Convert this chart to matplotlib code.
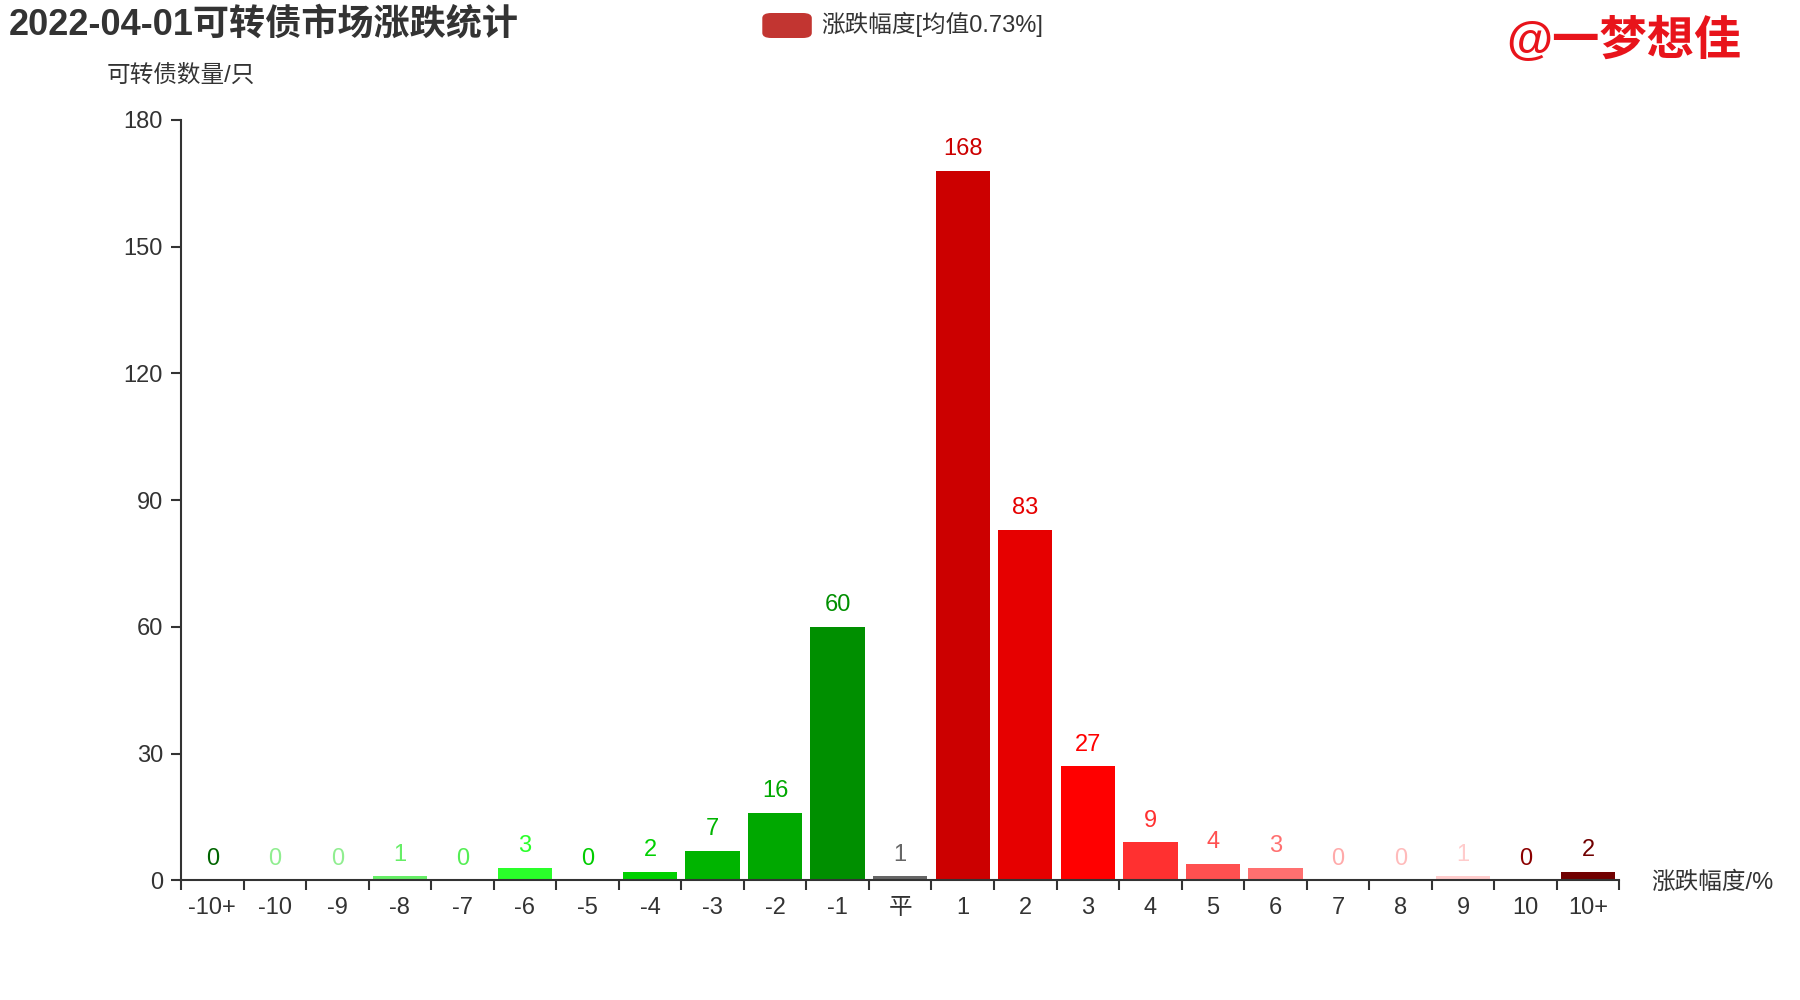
import numpy as np
import matplotlib
matplotlib.use('Agg')
import matplotlib.pyplot as plt
from matplotlib.patches import FancyBboxPatch

plt.rcParams['font.family'] = ['Liberation Sans', 'Noto Sans CJK SC', 'DejaVu Sans']

categories = ['-10+', '-10', '-9', '-8', '-7', '-6', '-5', '-4', '-3', '-2', '-1', '平',
              '1', '2', '3', '4', '5', '6', '7', '8', '9', '10', '10+']
counts = [0, 0, 0, 1, 0, 3, 0, 2, 7, 16, 60, 1,
          168, 83, 27, 9, 4, 3, 0, 0, 1, 0, 2]
colors = ['#006400', '#90ee90', '#90ee90', '#66ee66', '#55ee55', '#2aff2a', '#00cc00',
          '#00d000', '#00b400', '#00a800', '#008f00', '#666666',
          '#cc0000', '#e60000', '#ff0000', '#ff3030', '#ff5050', '#ff7070',
          '#ffaaaa', '#ffbbbb', '#ffcccc', '#8b0000', '#700000']
title = '2022-04-01可转债市场涨跌统计'
legend_text = '涨跌幅度[均值0.73%]'

fig = plt.figure(figsize=(18, 10), dpi=100)
ax = fig.add_axes([0.1006, 0.1196, 0.799, 0.7604])

x = np.arange(len(categories))
ax.bar(x, counts, width=0.87, color=colors)
for xi, v, c in zip(x, counts, colors):
    ax.text(xi, v + 2.5, str(v), ha='center', va='bottom', fontsize=17, color=c)

ax.set_xlim(-0.5, len(categories) - 0.5)
ax.set_ylim(0, 180)
ax.set_yticks(np.arange(0, 181, 30))
ax.set_xticks(np.arange(-0.5, len(categories), 1))
ax.set_xticklabels([])
ax.set_xticks(x, minor=True)
ax.set_xticklabels(categories, minor=True)
ax.tick_params(axis='x', which='major', length=7, width=1.5, color='#333333')
ax.tick_params(axis='x', which='minor', length=0, pad=12, labelsize=17, labelcolor='#333333')
ax.tick_params(axis='y', length=7, width=1.5, color='#333333', labelsize=17,
               labelcolor='#333333', pad=6)
for s in ['top', 'right']:
    ax.spines[s].set_visible(False)
for s in ['left', 'bottom']:
    ax.spines[s].set_color('#333333')
    ax.spines[s].set_linewidth(1.5)

fig.text(0.005, 0.975, title, fontsize=26, fontweight='bold', color='#333333',
         ha='left', va='center')
fig.text(0.059, 0.924, '可转债数量/只', fontsize=17, color='#333333', ha='left', va='center')
fig.text(0.9175, 0.117, '涨跌幅度/%', fontsize=17, color='#333333', ha='left', va='center')

box = FancyBboxPatch((0.4235, 0.962), 0.0275, 0.025, boxstyle='round,pad=0,rounding_size=0.005',
                     transform=fig.transFigure, facecolor='#c23531', edgecolor='none')
fig.patches.append(box)
fig.text(0.4565, 0.9755, legend_text, fontsize=17, color='#333333', ha='left', va='center')

fig.text(0.8367, 0.958, '@一梦想佳', fontsize=34, fontweight='bold', color='#e8141b',
         ha='left', va='center')

fig.savefig('out.png', dpi=100)
